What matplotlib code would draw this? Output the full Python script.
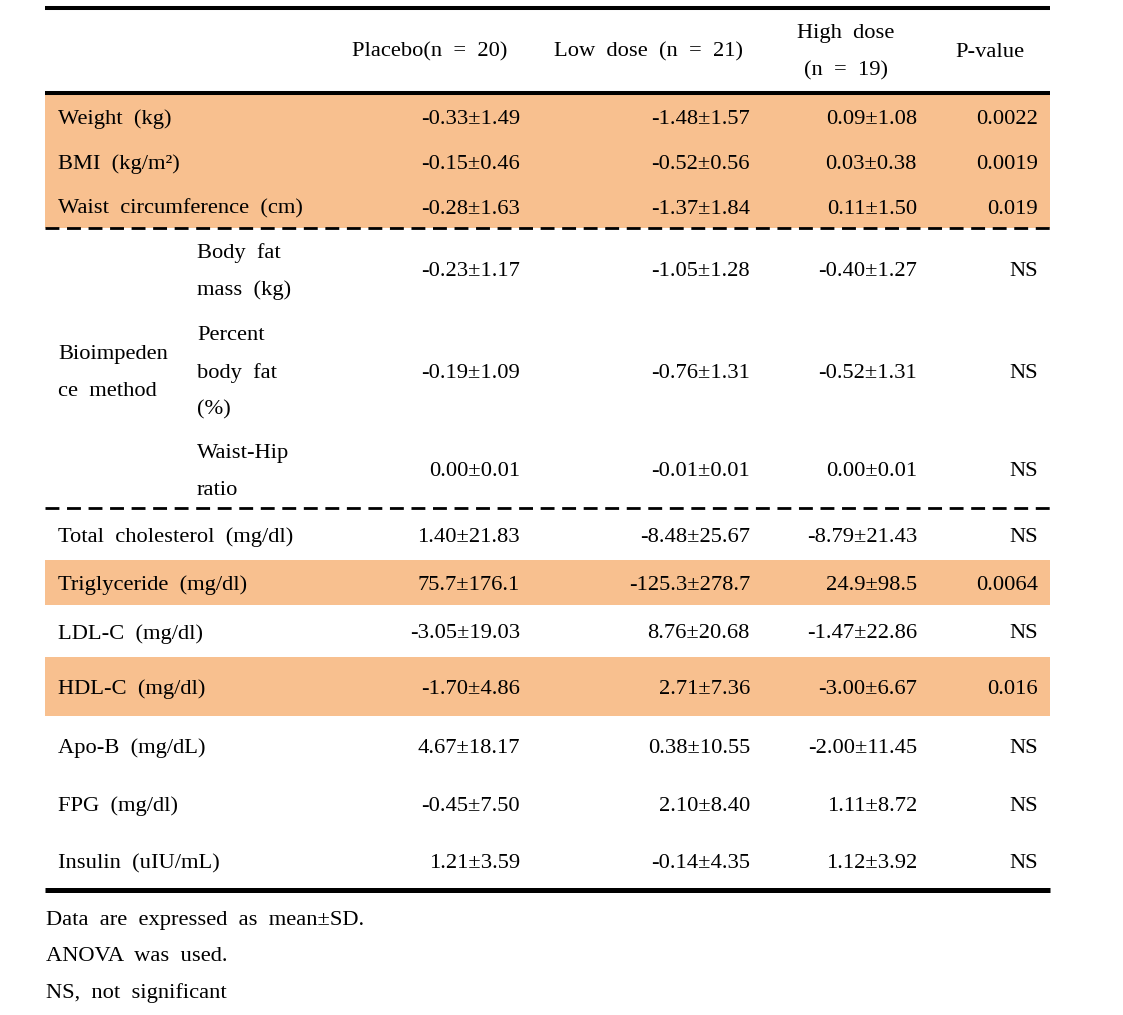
import matplotlib
matplotlib.use("Agg")
import matplotlib.pyplot as plt
from matplotlib.patches import Rectangle

plt.rcParams['font.family'] = ['Liberation Serif', 'DejaVu Serif']
plt.rcParams['lines.scale_dashes'] = False

# table contents
headers = ["Placebo(n  =  20)", "Low  dose  (n  =  21)", "High  dose\n(n  =  19)", "P-value"]
row_labels = ["Weight  (kg)", "BMI  (kg/m²)", "Waist  circumference  (cm)",
              "Body  fat\nmass  (kg)", "Percent\nbody  fat\n(%)", "Waist-Hip\nratio",
              "Total  cholesterol  (mg/dl)", "Triglyceride  (mg/dl)", "LDL-C  (mg/dl)",
              "HDL-C  (mg/dl)", "Apo-B  (mg/dL)", "FPG  (mg/dl)", "Insulin  (uIU/mL)"]
group_label = "Bioimpeden\nce  method"
group_rows = [3, 4, 5]
placebo = ["-0.33±1.49", "-0.15±0.46", "-0.28±1.63", "-0.23±1.17", "-0.19±1.09", "0.00±0.01",
           "1.40±21.83", "75.7±176.1", "-3.05±19.03", "-1.70±4.86", "4.67±18.17", "-0.45±7.50",
           "1.21±3.59"]
low_dose = ["-1.48±1.57", "-0.52±0.56", "-1.37±1.84", "-1.05±1.28", "-0.76±1.31", "-0.01±0.01",
            "-8.48±25.67", "-125.3±278.7", "8.76±20.68", "2.71±7.36", "0.38±10.55", "2.10±8.40",
            "-0.14±4.35"]
high_dose = ["0.09±1.08", "0.03±0.38", "0.11±1.50", "-0.40±1.27", "-0.52±1.31", "0.00±0.01",
             "-8.79±21.43", "24.9±98.5", "-1.47±22.86", "-3.00±6.67", "-2.00±11.45", "1.11±8.72",
             "1.12±3.92"]
p_values = ["0.0022", "0.0019", "0.019", "NS", "NS", "NS", "NS", "0.0064", "NS", "0.016",
            "NS", "NS", "NS"]
highlighted = [0, 1, 2, 7, 9]
footnotes = ["Data  are  expressed  as  mean±SD.", "ANOVA  was  used.", "NS,  not  significant"]

# layout (pixels)
row_edges = [95, 138, 184, 228, 310, 430, 508, 560, 605, 657, 716, 775, 832, 890]
dashed_after = [2, 5]
left, right = 45, 1050
label_x, sub_x = 58, 197
col_right = [520, 750, 917, 1038]
head_center = [430, 648, 846, 990]
line_gap = 37
dy = 3  # nudge text down to match the reference baseline
fs = 16.2
orange = "#F8C08F"

fig = plt.figure(figsize=(11.23, 10.15), dpi=100)
ax = fig.add_axes([0, 0, 1, 1])
ax.set_xlim(0, 1123)
ax.set_ylim(1015, 0)
ax.axis("off")


def multiline(x, y, s, ha):
    lines = s.split("\n")
    n = len(lines)
    for i, ln in enumerate(lines):
        ax.text(x, y + dy + (i - (n - 1) / 2) * line_gap, ln, ha=ha, va="center", fontsize=fs)


# shaded rows
for i in highlighted:
    ax.add_patch(Rectangle((left, row_edges[i]), right - left, row_edges[i + 1] - row_edges[i],
                           facecolor=orange, edgecolor="none", zorder=0))

# rules
ax.plot([left, right], [8, 8], color="black", lw=2.9, solid_capstyle="butt")
ax.plot([left, right], [93, 93], color="black", lw=2.9, solid_capstyle="butt")
ax.plot([left, right], [890, 890], color="black", lw=3.6, solid_capstyle="butt")
for i in dashed_after:
    ax.plot([left, right], [row_edges[i + 1], row_edges[i + 1]], color="black", lw=2.0,
            dashes=(10, 5.5), solid_capstyle="butt", dash_capstyle="butt")

# header
for x, h in zip(head_center, headers):
    multiline(x, 49, h, "center")

# body
for i, lab in enumerate(row_labels):
    yc = (row_edges[i] + row_edges[i + 1]) / 2
    multiline(sub_x if i in group_rows else label_x, yc, lab, "left")
    for x, col in zip(col_right, [placebo, low_dose, high_dose, p_values]):
        ax.text(x, yc + dy, col[i], ha="right", va="center", fontsize=fs)

gy = (row_edges[group_rows[1]] + row_edges[group_rows[1] + 1]) / 2
multiline(label_x, gy, group_label, "left")

for k, note in enumerate(footnotes):
    ax.text(46, 917 + dy + k * 36.5, note, ha="left", va="center", fontsize=fs)

fig.savefig("out.png", dpi=100)
